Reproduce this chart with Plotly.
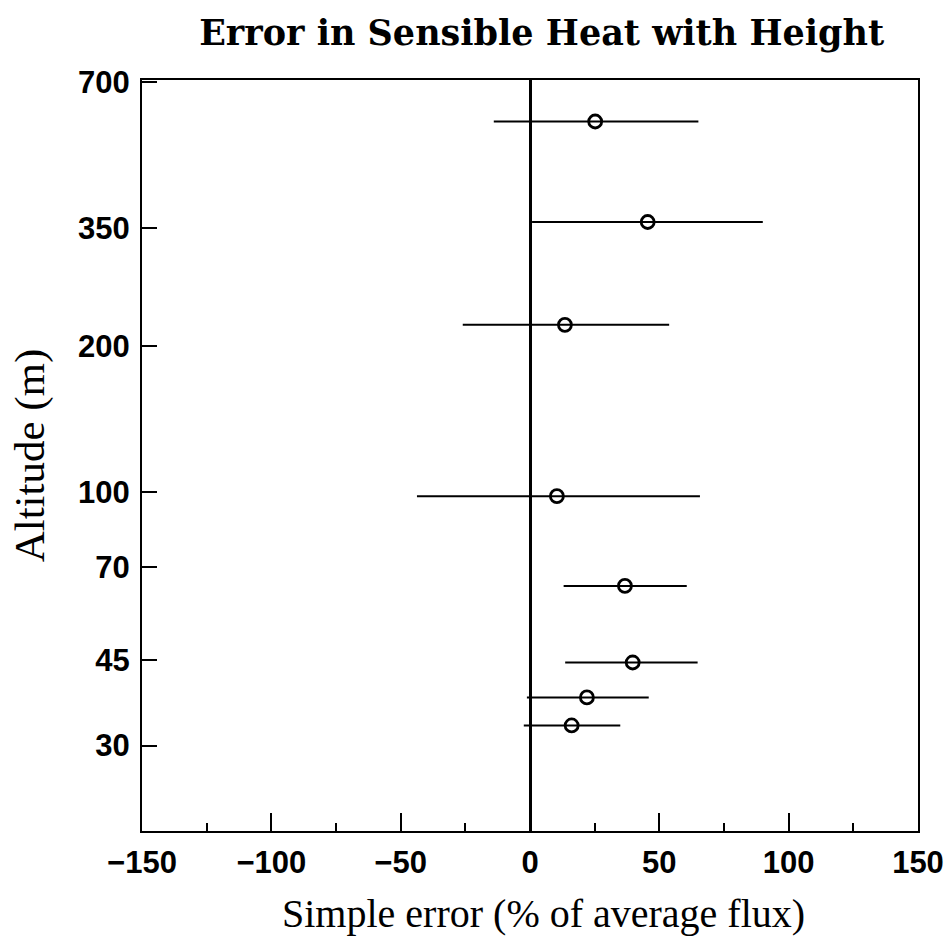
import plotly.graph_objects as go

# Data
altitude = [580, 360, 221, 98, 64, 44.5, 37.7, 33.0]
error_center = [25.2, 45.5, 13.5, 10.4, 36.7, 39.7, 22.0, 16.1]
error_low = [-14.0, 0.8, -26.0, -43.7, 13.0, 13.6, -1.2, -2.4]
error_high = [65.1, 90.0, 53.8, 65.7, 60.6, 64.8, 45.9, 34.9]

y_ticks = [30, 45, 70, 100, 200, 350, 700]
x_ticks = [-150, -100, -50, 0, 50, 100, 150]
x_tick_text = ["\u2212150", "\u2212100", "\u221250", "0", "50", "100", "150"]

plus = [h - c for h, c in zip(error_high, error_center)]
minus = [c - l for c, l in zip(error_center, error_low)]

fig = go.Figure()
fig.add_trace(go.Scatter(
    x=error_center, y=altitude, mode="markers",
    marker=dict(symbol="circle-open", size=13, color="black", line=dict(width=2.8, color="black")),
    error_x=dict(type="data", symmetric=False, array=plus, arrayminus=minus,
                 width=0, thickness=2, color="black"),
    showlegend=False,
))

tickfont = dict(family="Liberation Sans", size=31, color="black", weight="bold")

fig.update_layout(
    width=951, height=940,
    margin=dict(l=142, r=33, t=80, b=109),
    paper_bgcolor="white", plot_bgcolor="white",
    title=dict(text="Error in Sensible Heat with Height",
               font=dict(family="DejaVu Serif", size=35, color="black", weight="bold"),
               xref="paper", x=0.515, xanchor="center",
               yref="container", y=1 - 33 / 940, yanchor="middle"),
    xaxis=dict(
        range=[-150, 150], tickvals=x_ticks, ticktext=x_tick_text,
        ticks="inside", ticklen=18, tickwidth=2, tickcolor="black",
        minor=dict(dtick=25, ticks="inside", ticklen=8, tickwidth=2, tickcolor="black", showgrid=False),
        showline=True, linecolor="black", linewidth=2, mirror=True,
        showgrid=False, zeroline=True, zerolinecolor="black", zerolinewidth=2.5,
        tickfont=tickfont, ticklabelstandoff=3, automargin=False,
    ),
    yaxis=dict(
        type="log", range=[1.301, 2.849], tickvals=y_ticks, ticktext=[str(v) for v in y_ticks],
        ticks="inside", ticklen=15, tickwidth=2, tickcolor="black",
        showline=True, linecolor="black", linewidth=2, mirror=True,
        showgrid=False, zeroline=False,
        tickfont=tickfont, ticklabelstandoff=4, automargin=False,
        title=dict(text="Altitude (m)", font=dict(family="Liberation Serif", size=43, color="black"), standoff=20),
    ),
    annotations=[dict(
        text="Simple error (% of average flux)", showarrow=False,
        xref="paper", yref="paper", x=0.518, y=-82 / 751,
        xanchor="center", yanchor="middle",
        font=dict(family="Liberation Serif", size=40, color="black"),
    )],
)

fig.write_html("out.html")
